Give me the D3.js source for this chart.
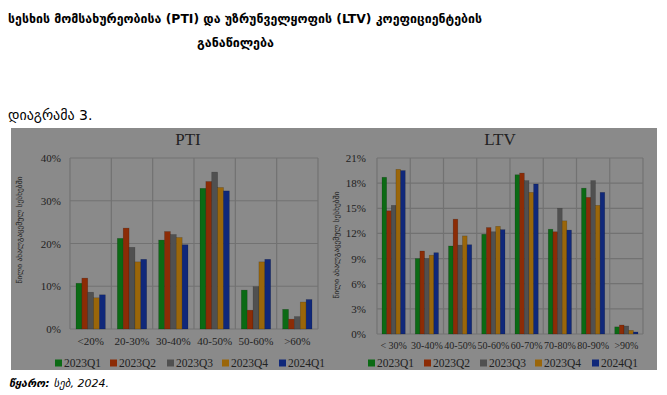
<!DOCTYPE html>
<html>
<head>
<meta charset="utf-8">
<script src="https://cdn.jsdelivr.net/npm/d3@7"></script>
<style>
  body { margin: 0; background: #fff; }
  text { font-family: "Liberation Serif", "DejaVu Serif", serif; }
</style>
</head>
<body>
<svg id="chart" width="667" height="395"></svg>
<script>
// data
var series = ["2023Q1", "2023Q2", "2023Q3", "2023Q4", "2024Q1"];
var colors = ["#0b6a14", "#8c2c06", "#505050", "#9a660a", "#10287a"];

var ptiCats = ["<20%", "20-30%", "30-40%", "40-50%", "50-60%", ">60%"];
var ptiQ1_23 = [10.7, 21.2, 20.8, 32.9, 9.1, 4.6];
var ptiQ2_23 = [11.9, 23.6, 22.8, 34.5, 4.4, 2.3];
var ptiQ3_23 = [8.6, 19.1, 22.1, 36.7, 9.9, 2.9];
var ptiQ4_23 = [7.3, 15.7, 21.4, 33.1, 15.7, 6.3];
var ptiQ1_24 = [8.0, 16.3, 19.7, 32.3, 16.3, 6.9];
var ptiTicks = [0, 10, 20, 30, 40];

var ltvCats = ["< 30%", "30-40%", "40-50%", "50-60%", "60-70%", "70-80%", "80-90%", ">90%"];
var ltvQ1_23 = [18.7, 9.0, 10.5, 11.9, 19.0, 12.5, 17.4, 0.85];
var ltvQ2_23 = [14.7, 9.9, 13.7, 12.7, 19.2, 12.2, 16.3, 1.07];
var ltvQ3_23 = [15.35, 9.0, 10.6, 12.2, 18.3, 15.0, 18.3, 0.95];
var ltvQ4_23 = [19.65, 9.4, 11.7, 12.85, 16.9, 13.5, 15.35, 0.44];
var ltvQ1_24 = [19.5, 9.7, 10.65, 12.45, 17.9, 12.4, 16.9, 0.24];
var ltvTicks = [0, 3, 6, 9, 12, 15, 18, 21];

var yLabel = "წილი ახალგაცემულ სესხებში";

var svg = d3.select("#chart");

// page texts
svg.append("text").attr("x", 8).attr("y", 23)
   .attr("textLength", 474).attr("lengthAdjust", "spacingAndGlyphs")
   .style("font-family", "DejaVu Sans")
   .style("font-weight", "bold").style("font-size", "13px")
   .text("სესხის მომსახურეობისა (PTI) და უზრუნველყოფის (LTV) კოეფიციენტების");
svg.append("text").attr("x", 197).attr("y", 47)
   .attr("textLength", 77).attr("lengthAdjust", "spacingAndGlyphs")
   .style("font-family", "DejaVu Sans")
   .style("font-weight", "bold").style("font-size", "13px")
   .text("განაწილება");
svg.append("text").attr("x", 8).attr("y", 120)
   .style("font-family", "DejaVu Sans").style("font-size", "14px")
   .text("დიაგრამა 3.");
var src = svg.append("text").attr("x", 9).attr("y", 387)
   .style("font-family", "DejaVu Sans").style("font-size", "11px");
src.append("tspan").style("font-weight", "bold").style("font-style", "italic").text("წყარო: ");
src.append("tspan").style("font-style", "italic").text("სებ, 2024.");

function drawPanel(o) {
  var g = svg.append("g");
  g.append("rect").attr("x", o.px).attr("y", 128).attr("width", o.pw).attr("height", 242)
    .attr("fill", "#8a8a8a");

  var x0 = d3.scaleBand().domain(o.cats).range([o.left, o.right]);
  var x1 = d3.scaleBand().domain(series).range([o.gap, x0.bandwidth() - o.gap]);
  var y = d3.scaleLinear().domain([0, o.max]).range([o.bottom, 158]);

  // grid
  g.selectAll(".hg").data(o.ticks).join("line")
    .attr("x1", o.left).attr("x2", o.right)
    .attr("y1", function(d) { return y(d); }).attr("y2", function(d) { return y(d); })
    .attr("stroke", "#727272").attr("stroke-width", 1.2);
  var edges = o.cats.map(function(c) { return x0(c); }).concat([o.right]);
  g.selectAll(".vg").data(edges).join("line")
    .attr("x1", function(d) { return d; }).attr("x2", function(d) { return d; })
    .attr("y1", y(o.max)).attr("y2", o.bottom)
    .attr("stroke", "#727272").attr("stroke-width", 1.2);

  // y tick labels
  g.append("g").attr("transform", "translate(" + o.left + ",0)")
    .call(d3.axisLeft(y).tickValues(o.ticks).tickSize(0).tickPadding(o.tickPad)
      .tickFormat(function(d) { return d + "%"; }))
    .call(function(a) { a.select(".domain").remove(); })
    .selectAll("text").style("font-family", "Liberation Serif").style("font-size", "11px").attr("fill", "#222");

  // category labels
  g.append("g").attr("transform", "translate(0," + o.bottom + ")")
    .call(d3.axisBottom(x0).tickSize(0).tickPadding(8))
    .call(function(a) { a.select(".domain").remove(); })
    .selectAll("text").style("font-family", "Liberation Serif").style("font-size", o.catSize).attr("fill", "#222");

  // bars
  var grp = g.selectAll(".cat").data(o.cats).join("g")
    .attr("transform", function(c) { return "translate(" + x0(c) + ",0)"; });
  grp.selectAll("rect").data(function(c, i) {
      return series.map(function(s, k) { return { s: s, k: k, v: o.vals[k][i] }; });
    }).join("rect")
    .attr("x", function(d) { return x1(d.s); })
    .attr("width", x1.bandwidth())
    .attr("y", function(d) { return y(d.v); })
    .attr("height", function(d) { return o.bottom - y(d.v); })
    .attr("fill", function(d) { return colors[d.k]; })
    .attr("stroke", "rgba(0,0,0,0.25)").attr("stroke-width", 0.6);

  // title
  g.append("text").attr("x", o.titleX).attr("y", 145).attr("text-anchor", "middle")
    .style("font-family", "Liberation Serif").style("font-size", "17px").attr("fill", "#222")
    .text(o.title);

  // rotated y label
  g.append("text").attr("transform", "translate(" + o.labX + "," + o.labY + ") rotate(-90)")
    .attr("text-anchor", "middle").style("font-family", "DejaVu Sans").style("font-size", "7.5px")
    .attr("fill", "#222").text(yLabel);

  // legend
  var leg = g.selectAll(".leg").data(series).join("g")
    .attr("transform", function(d, i) { return "translate(" + o.legX[i] + ",363)"; });
  leg.append("rect").attr("x", 0).attr("y", -3.5).attr("width", 7).attr("height", 7)
    .attr("fill", function(d, i) { return colors[i]; });
  leg.append("text").attr("x", 9).attr("y", 4)
    .style("font-family", "Liberation Serif").style("font-size", "11.5px").attr("fill", "#222")
    .text(function(d) { return d; });
}

drawPanel({
  px: 11, pw: 319, cats: ptiCats, left: 70, right: 318, bottom: 329, max: 40,
  ticks: ptiTicks, gap: 6, tickPad: 9, catSize: "11px",
  vals: [ptiQ1_23, ptiQ2_23, ptiQ3_23, ptiQ4_23, ptiQ1_24],
  title: "PTI", titleX: 188, labX: 22, labY: 230,
  legX: [55, 110, 167, 222, 279]
});

drawPanel({
  px: 330, pw: 327, cats: ltvCats, left: 377, right: 643, bottom: 334, max: 21,
  ticks: ltvTicks, gap: 5, tickPad: 11, catSize: "10px",
  vals: [ltvQ1_23, ltvQ2_23, ltvQ3_23, ltvQ4_23, ltvQ1_24],
  title: "LTV", titleX: 500, labX: 339, labY: 245,
  legX: [368, 424, 480, 535, 592]
});
</script>
</body>
</html>
